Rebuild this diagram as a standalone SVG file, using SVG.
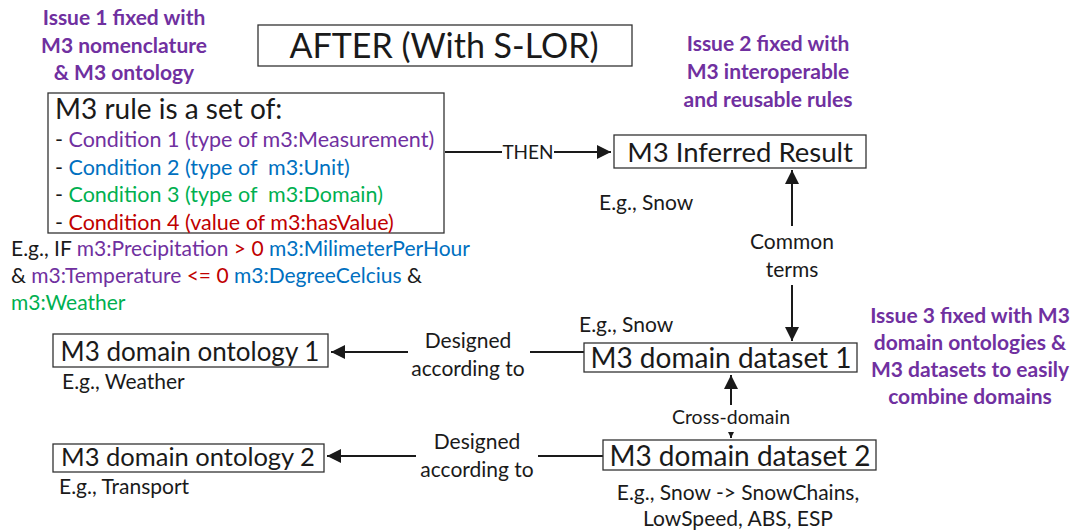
<svg xmlns="http://www.w3.org/2000/svg" width="1086" height="532" viewBox="0 0 1086 532">
<style>
text{font-family:Lato,"Open Sans","Liberation Sans",sans-serif;fill:#1a1a1a}
.box{fill:#fff;stroke:#333;stroke-width:1.3}
.issue{font-weight:bold;fill:#7030A0;font-size:21px;text-anchor:middle}
.lbl{font-size:21px}
.cond{font-size:21.5px}
.mid{text-anchor:middle}
.big{font-size:28px}
.p{fill:#7030A0}.b{fill:#0070C0}.g{fill:#00B050}.r{fill:#C00000}
.ln{stroke:#1a1a1a;stroke-width:2;fill:none}
</style>
<defs>
<marker id="ahl" viewBox="0 0 10 10" refX="10" refY="5" markerWidth="18" markerHeight="14" orient="auto-start-reverse" markerUnits="userSpaceOnUse">
<path d="M0,0 L10,5 L0,10 z" fill="#1a1a1a"/>
</marker>
<marker id="ahs" viewBox="0 0 10 10" refX="10" refY="5" markerWidth="6" markerHeight="6" orient="auto" markerUnits="userSpaceOnUse">
<path d="M0,0 L10,5 L0,10 z" fill="#1a1a1a"/>
</marker>
</defs>

<g id="connectors">
<line class="ln" x1="445" y1="152" x2="502" y2="152"/>
<text class="mid" x="528" y="159" font-size="19">THEN</text>
<path class="ln" d="M554,152 H611" marker-end="url(#ahl)"/>
<path class="ln" d="M792,226 V170" marker-end="url(#ahl)"/>
<text class="lbl mid" x="792" y="249">Common</text>
<text class="lbl mid" x="792" y="277">terms</text>
<path class="ln" d="M792,285 V341" marker-end="url(#ahl)"/>
<path class="ln" d="M584,352 H530"/>
<text class="lbl mid" x="468" y="348">Designed</text>
<text class="lbl mid" x="468" y="376">according to</text>
<path class="ln" d="M408,352 H331" marker-end="url(#ahl)"/>
<path class="ln" d="M731,405 V375" marker-end="url(#ahl)"/>
<text class="mid" x="731" y="424" font-size="19.5">Cross-domain</text>
<path class="ln" d="M731,432 V438" stroke-width="1" marker-end="url(#ahs)"/>
<path class="ln" d="M603,456 H538"/>
<text class="lbl mid" x="477" y="449">Designed</text>
<text class="lbl mid" x="477" y="477">according to</text>
<path class="ln" d="M416,456 H327" marker-end="url(#ahl)"/>
</g>

<g id="issue1">
<text class="issue" x="124" y="25">Issue 1 fixed with</text>
<text class="issue" x="124" y="53">M3 nomenclature</text>
<text class="issue" x="124" y="80">&amp; M3 ontology</text>
</g>

<g id="title">
<rect class="box" x="258" y="25" width="374" height="41"/>
<text class="mid" x="444" y="58" font-size="34">AFTER (With S-LOR)</text>
</g>

<g id="issue2">
<text class="issue" x="768" y="51">Issue 2 fixed with</text>
<text class="issue" x="768" y="79">M3 interoperable</text>
<text class="issue" x="768" y="107">and reusable rules</text>
</g>

<g id="rule">
<rect class="box" x="48" y="93" width="396" height="140"/>
<text x="55" y="119" font-size="28">M3 rule is a set of:</text>
<text class="cond" x="55" y="147">- <tspan class="p">Condition 1 (type of m3:Measurement)</tspan></text>
<text class="cond" x="55" y="175">- <tspan class="b">Condition 2 (type of&#160; m3:Unit)</tspan></text>
<text class="cond" x="55" y="202">- <tspan class="g">Condition 3 (type of&#160; m3:Domain)</tspan></text>
<text class="cond" x="55" y="230">- <tspan class="r">Condition 4 (value of m3:hasValue)</tspan></text>
</g>

<g id="rule-example">
<text class="lbl" x="11" y="256">E.g., IF <tspan class="p">m3:Precipitation</tspan> <tspan class="r">&gt; 0</tspan> <tspan class="b">m3:MilimeterPerHour</tspan></text>
<text class="lbl" x="11" y="283">&amp; <tspan class="p">m3:Temperature</tspan> <tspan class="r">&lt;= 0</tspan> <tspan class="b">m3:DegreeCelcius</tspan> &amp;</text>
<text class="lbl g" x="11" y="310">m3:Weather</text>
</g>

<g id="inferred">
<rect class="box" x="614" y="135" width="252" height="33"/>
<text class="mid" x="740" y="162" font-size="27.5">M3 Inferred Result</text>
<text class="lbl" x="599" y="210">E.g., Snow</text>
</g>

<g id="dataset1">
<rect class="box" x="584" y="343" width="273" height="29"/>
<text class="big mid" x="721" y="368">M3 domain dataset 1</text>
<text class="lbl" x="579" y="332">E.g., Snow</text>
</g>

<g id="dataset2">
<rect class="box" x="603" y="440" width="273" height="30"/>
<text class="big mid" x="740" y="466">M3 domain dataset 2</text>
<text class="lbl mid" x="738" y="500">E.g., Snow -&gt; SnowChains,</text>
<text class="lbl mid" x="738" y="526">LowSpeed, ABS, ESP</text>
</g>

<g id="ontology1">
<rect class="box" x="53" y="334" width="275" height="33"/>
<text class="mid" x="190" y="361" font-size="26">M3 domain ontology 1</text>
<text class="lbl" x="62" y="389">E.g., Weather</text>
</g>

<g id="ontology2">
<rect class="box" x="53" y="444" width="271" height="28"/>
<text class="mid" x="188" y="466" font-size="25.5">M3 domain ontology 2</text>
<text class="lbl" x="59" y="494">E.g., Transport</text>
</g>

<g id="issue3">
<text class="issue" x="970" y="323">Issue 3 fixed with M3</text>
<text class="issue" x="970" y="350">domain ontologies &amp;</text>
<text class="issue" x="970" y="377">M3 datasets to easily</text>
<text class="issue" x="970" y="404">combine domains</text>
</g>
</svg>
